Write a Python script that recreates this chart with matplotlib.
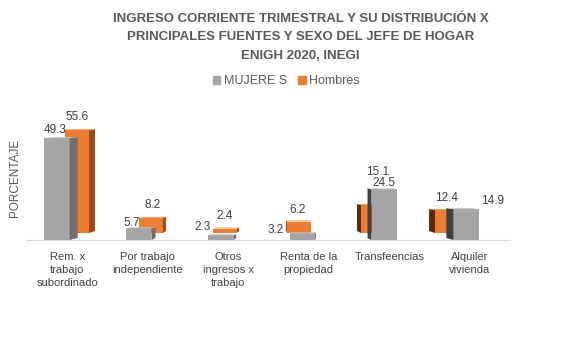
import matplotlib.pyplot as plt
from matplotlib.patches import Polygon, Patch

plt.rcParams['font.family'] = ['Liberation Sans', 'DejaVu Sans']

categorias = ['Rem. x\ntrabajo\nsubordinado', 'Por trabajo\nindependiente', 'Otros\ningresos x\ntrabajo',
              'Renta de la\npropiedad', 'Transfeencias', 'Alquiler\nvivienda']
mujeres = [49.3, 5.7, 2.3, 3.2, 15.1, 12.4]
hombres = [55.6, 8.2, 2.4, 6.2, 24.5, 14.9]
etiquetas_series = ['MUJERE S', 'Hombres']

# en las dos ultimas categorias el grafico original pinta el valor de mujeres en naranja (atras)
# y el de hombres en gris (adelante)
invertido = [False, False, False, False, True, True]

# desplazamiento de etiquetas (pixeles) respecto a la cima de la barra
off_m = [(-2, 8), (-7, 5), (-18, 8), (-27, 3), (5, 33), (0, 12)]
off_h = [(0, 13), (2, 13), (0, 13), (-1, 12), (0, 6), (27, 8)]
# ancho de la cara lateral (pixeles, negativo = a la izquierda)
lado_g = [8, 4, 3, 1, -4, -7]
lado_o = [6, 3, 2, -1, -4, -6]

GRIS, GRIS_L, GRIS_L2, GRIS_T = '#a5a5a5', '#6f6f6f', '#404040', '#c2c2c2'
NAR, NAR_L, NAR_L2, NAR_T = '#ed7d31', '#9e4a17', '#5b2a0c', '#f39a5a'

W, H = 567, 360
fig = plt.figure(figsize=(5.67, 3.6), dpi=100)

# eje base: etiquetas y linea de base
ax = fig.add_axes([27 / W, (H - 240) / H, 483 / W, 124 / H])
ax.set_xlim(-0.5, 5.5)
ax.set_ylim(0, 60)
# fila de atras (naranja) y fila de adelante (gris), con la escala reducida por la perspectiva
axo = fig.add_axes([27 / W, (H - 233) / H, 483 / W, 111 / H])
axo.set_xlim(-0.676, 5.851)
axo.set_ylim(0, 60)
axg = fig.add_axes([27 / W, (H - 240) / H, 483 / W, 124 / H])
axg.set_xlim(-0.367, 5.538)
axg.set_ylim(0, 60)
for a in (axo, axg):
    a.set_axis_off()
    a.patch.set_alpha(0)


def caja(a, x, h, w, color, lado, tope, dpx):
    a.bar(x, h, width=w, color=color, linewidth=0, zorder=2)
    ppx = (a.get_xlim()[1] - a.get_xlim()[0]) / 483  # unidades por pixel en x
    ppy = 60 / (a.get_position().height * H)
    d = dpx * ppx
    rise = 2 * ppy
    x0, x1 = x - w / 2, x + w / 2
    e = x1 if dpx > 0 else x0
    side = [(e, 0), (e + d, rise), (e + d, h + rise * 0.5), (e, h)]
    a.add_patch(Polygon(side, closed=True, color=lado, lw=0, zorder=2, clip_on=False))
    cap = [(x0, h), (x0 + d, h + rise * 0.5), (x1 + d, h + rise * 0.5), (x1, h)]
    a.add_patch(Polygon(cap, closed=True, color=tope, lw=0, zorder=2, clip_on=False))


for i in range(len(categorias)):
    m, h = mujeres[i], hombres[i]
    if not invertido[i]:
        caja(axo, i, h, 0.324, NAR, NAR_L, NAR_T, lado_o[i])
        caja(axg, i, m, 0.31, GRIS, GRIS_L, GRIS_T, lado_g[i])
        am, ah = axg, axo
    else:
        caja(axo, i, m, 0.324, NAR, NAR_L2, NAR_T, lado_o[i])
        caja(axg, i, h, 0.31, GRIS, GRIS_L2, GRIS_T, lado_g[i])
        am, ah = axo, axg
    am.annotate(f'{m:.1f}', xy=(i, m), xytext=off_m[i], textcoords='offset pixels',
                ha='center', va='center', fontsize=8.5, color='#404040', zorder=5)
    ah.annotate(f'{h:.1f}', xy=(i, h), xytext=off_h[i], textcoords='offset pixels',
                ha='center', va='center', fontsize=8.5, color='#404040', zorder=5)

for s in ['top', 'right', 'left']:
    ax.spines[s].set_visible(False)
ax.spines['bottom'].set_color('#d9d9d9')
ax.set_yticks([])
ax.set_xticks(range(len(categorias)))
ax.set_xticklabels(categorias, fontsize=8, color='#404040', linespacing=1.35)
ax.tick_params(axis='x', length=0, pad=9)
ax.set_ylabel('PORCENTAJE', fontsize=8.5, color='#595959', labelpad=4)

fig.text(0.53, 0.965, 'INGRESO CORRIENTE TRIMESTRAL Y SU DISTRIBUCIÓN X\n'
         'PRINCIPALES FUENTES Y SEXO DEL JEFE DE HOGAR\nENIGH 2020, INEGI',
         ha='center', va='top', fontsize=9.5, fontweight='bold', color='#595959', linespacing=1.75)

hand = [Patch(color=GRIS), Patch(color=NAR)]
fig.legend(hand, etiquetas_series, loc='center', bbox_to_anchor=(0.505, 0.775), ncol=2, frameon=False,
           fontsize=9, handlelength=0.6, handleheight=0.6, handletextpad=0.3, columnspacing=0.9,
           labelcolor='#595959')

fig.savefig('out.png', dpi=100)
